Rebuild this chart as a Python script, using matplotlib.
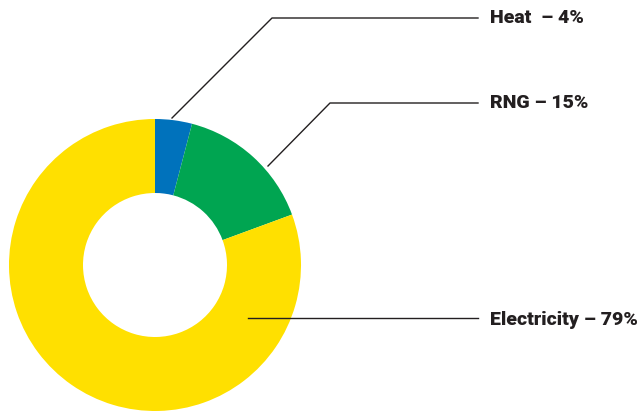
import matplotlib
matplotlib.use("Agg")
import matplotlib.pyplot as plt

labels = ["Heat", "RNG", "Electricity"]
values = [4, 15, 79]
colors = ["#0072BC", "#00A551", "#FFE000"]
label_text = ["Heat  – 4%", "RNG – 15%", "Electricity – 79%"]

W, H = 642, 411


def main():
    fig = plt.figure(figsize=(W / 100, H / 100), dpi=100)
    ax = fig.add_axes([0, 0, 1, 1])

    cx, cy, r = 155, H - 265, 146
    ax.pie(values, colors=colors, startangle=90, counterclock=False,
           center=(cx, cy), radius=r, frame=True,
           wedgeprops=dict(width=74, linewidth=0))
    ax.set_xlim(0, W)
    ax.set_ylim(0, H)
    ax.set_aspect("equal")
    ax.axis("off")

    # leader lines (pixel coords from top)
    leaders = [
        [(172, 118), (272, 18), (478, 18)],
        [(268, 166), (330, 103), (478, 103)],
        [(248, 318), (478, 318)],
    ]
    text_y = [18, 103, 320]
    for pts, ty, txt in zip(leaders, text_y, label_text):
        xs = [p[0] for p in pts]
        ys = [H - p[1] for p in pts]
        ax.plot(xs, ys, color="#231F20", lw=1)
        ax.text(490, H - ty, txt, fontsize=14, fontweight="black",
                family="Roboto", color="#231F20", va="center", ha="left")

    fig.savefig("out.png", dpi=100)


if __name__ == "__main__":
    main()
